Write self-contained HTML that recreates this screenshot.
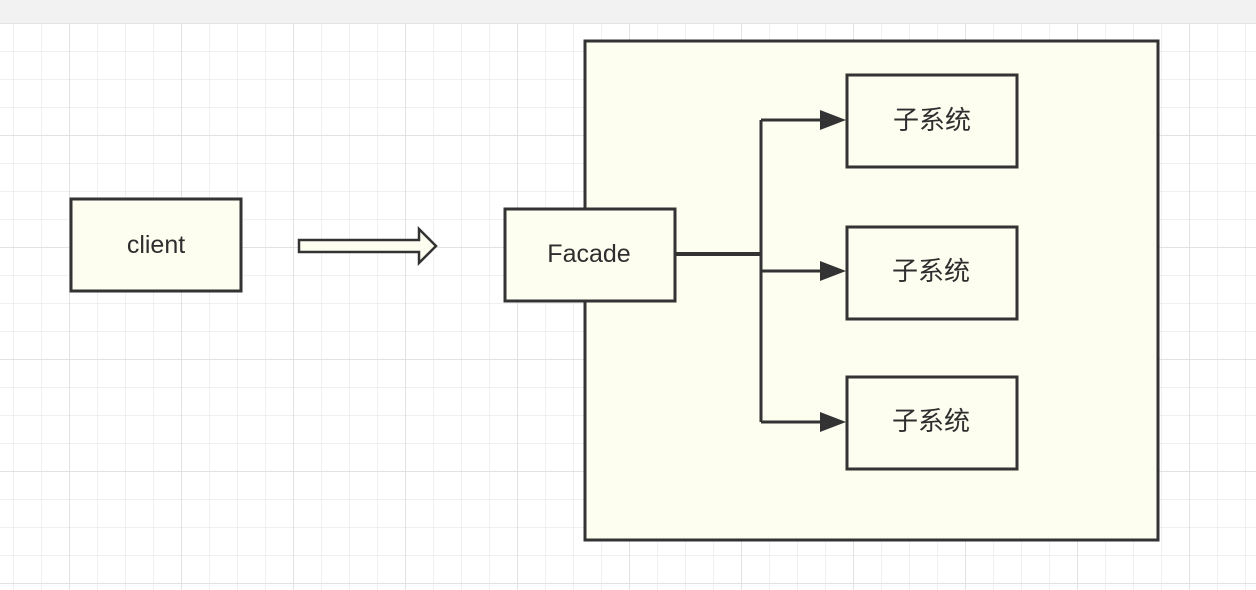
<!DOCTYPE html>
<html><head><meta charset="utf-8"><style>
html,body{margin:0;padding:0;width:1256px;height:590px;overflow:hidden;background:#fff}
svg{display:block}
text{font-family:"Liberation Sans","Noto Sans CJK SC",sans-serif;fill:#2e2e2e;font-size:25px;text-anchor:middle;dominant-baseline:central}
.c{font-size:26px}
</style></head><body>
<svg width="1256" height="590" viewBox="0 0 1256 590">
<defs>
<pattern id="g" x="13" y="23" width="28" height="28" patternUnits="userSpaceOnUse">
<path d="M0 0H28M0 0V28" stroke="#ebebeb" stroke-width="1.5" fill="none"/>
</pattern>
<pattern id="G" x="69" y="23" width="112" height="112" patternUnits="userSpaceOnUse">
<path d="M0 0H112M0 0V112" stroke="#e2e2e2" stroke-width="2" fill="none"/>
</pattern>
</defs>
<rect width="1256" height="590" fill="url(#g)"/>
<rect width="1256" height="590" fill="url(#G)"/>
<rect width="1256" height="23" fill="#f2f2f2"/>
<g stroke="#333" stroke-width="3" fill="#fdfdf0">
<rect x="585" y="41" width="573" height="499"/>
<rect x="71" y="199" width="170" height="92"/>
<rect x="505" y="209" width="170" height="92"/>
<rect x="847" y="75" width="170" height="92"/>
<rect x="847" y="227" width="170" height="92"/>
<rect x="847" y="377" width="170" height="92"/>
<path d="M299 240H419V229L436 246L419 263V252H299Z" stroke-width="2.5"/>
</g>
<g stroke="#333" stroke-width="3" fill="none">
<path d="M675 254H762" stroke-width="4"/>
<path d="M761 120V422"/>
<path d="M761 120H822M761 271H822M761 422H822"/>
</g>
<g fill="#333">
<path d="M820 110L846 120L820 130Z"/>
<path d="M820 261L846 271L820 281Z"/>
<path d="M820 412L846 422L820 432Z"/>
</g>
<text x="156" y="245">client</text>
<text x="589" y="254">Facade</text>
<text class="c" x="932" y="120">子系统</text>
<text class="c" x="931" y="271">子系统</text>
<text class="c" x="931" y="421">子系统</text>
</svg>
</body></html>
